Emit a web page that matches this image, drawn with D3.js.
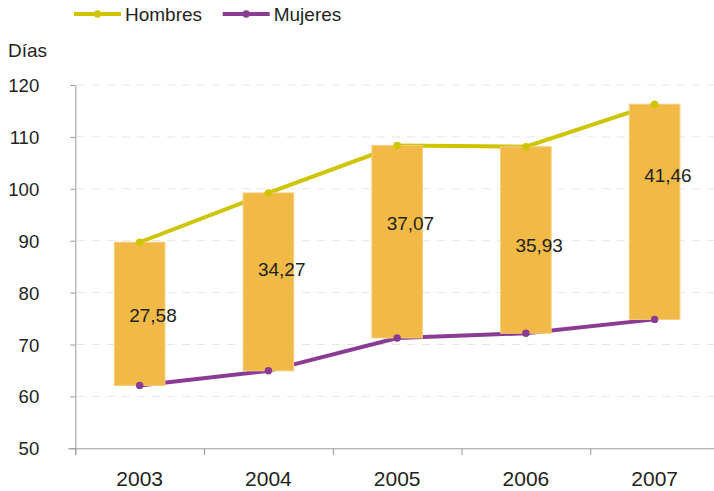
<!DOCTYPE html>
<html><head><meta charset="utf-8">
<script src="https://cdn.jsdelivr.net/npm/d3@7"></script>
<style>body{margin:0;background:#fff}svg{display:block;font-family:"Liberation Sans",Arial,sans-serif}</style>
</head><body><svg id="c" width="714" height="491"></svg>
<script>
const years = ["2003","2004","2005","2006","2007"];
const hombres = [89.70, 99.20, 108.33, 108.10, 116.30];
const diffs = [27.58, 34.27, 37.07, 35.93, 41.46];
const mujeres = [62.12, 64.93, 71.26, 72.17, 74.84];
const diffLabels = ["27,58","34,27","37,07","35,93","41,46"];
const labelAt = [75.6, 84.5, 93.3, 89.2, 102.5];
const yTicks = [50,60,70,80,90,100,110,120];
const seriesNames = ["Hombres","Mujeres"];
const colors = {Hombres:"#CFC400", Mujeres:"#8A3B94"};

const svg = d3.select("#c");
const x = d3.scaleBand().domain(years).range([75.3, 719]);
const y = d3.scaleLinear().domain([50,120]).range([448.3, 85]);
const txt = "#231F20";

// gridlines
svg.append("g").selectAll("line").data(yTicks.filter(t=>t>50)).join("line")
  .attr("x1",77).attr("x2",714).attr("y1",d=>y(d)).attr("y2",d=>y(d))
  .attr("stroke","#E6E6E6").attr("stroke-width",1).attr("stroke-dasharray","8,7");

// y axis
const ya = svg.append("g").attr("transform","translate(75.3,0)")
  .call(d3.axisLeft(y).tickValues(yTicks).tickSize(5).tickPadding(31));
ya.select(".domain").attr("d","M0.5,"+y(120)+"V455").attr("stroke","#9A9A9A");
ya.selectAll(".tick line").attr("stroke","#9A9A9A");
ya.selectAll("text").attr("font-size",18.6).attr("fill",txt).attr("font-family","Liberation Sans, Arial, sans-serif").attr("dy","0.35em");

// x axis
const xa = svg.append("g").attr("transform","translate(0,448.3)")
  .call(d3.axisBottom(x).tickSize(0).tickPadding(23));
xa.select(".domain").attr("d","M68,0.5H714").attr("stroke","#9A9A9A");
xa.selectAll("text").attr("font-size",21).attr("fill",txt).attr("font-family","Liberation Sans, Arial, sans-serif");
svg.append("g").selectAll("line").data(years).join("line")
  .attr("x1",d=>x(d)+0.5).attr("x2",d=>x(d)+0.5).attr("y1",448.3).attr("y2",455)
  .attr("stroke","#9A9A9A");

// lines
const line = d3.line().x((d,i)=>x(years[i])+x.bandwidth()/2).y(d=>y(d));
svg.append("path").datum(hombres).attr("d",line).attr("fill","none")
  .attr("stroke",colors.Hombres).attr("stroke-width",4);
svg.append("path").datum(mujeres).attr("d",line).attr("fill","none")
  .attr("stroke",colors.Mujeres).attr("stroke-width",4);

// bars
const bw = 50.5;
svg.append("g").selectAll("rect").data(years).join("rect")
  .attr("x",(d)=>x(d)+x.bandwidth()/2-bw/2)
  .attr("width",bw)
  .attr("y",(d,i)=>y(mujeres[i]+diffs[i]))
  .attr("height",(d,i)=>y(mujeres[i])-y(mujeres[i]+diffs[i]))
  .attr("fill","#F1B946").attr("stroke","#F6CC78").attr("stroke-width",1);

// dots
[["Hombres",hombres],["Mujeres",mujeres]].forEach(([n,vals])=>{
  svg.append("g").selectAll("circle").data(vals).join("circle")
    .attr("cx",(d,i)=>x(years[i])+x.bandwidth()/2).attr("cy",d=>y(d)).attr("r",3.7)
    .attr("fill",colors[n]);
});

// bar labels
svg.append("g").selectAll("text").data(diffLabels).join("text")
  .attr("x",(d,i)=>x(years[i])+x.bandwidth()/2-10.5)
  .attr("y",(d,i)=>y(labelAt[i])).attr("dy","0.35em")
  .attr("font-size",19).attr("fill",txt).text(d=>d);

// Días
svg.append("text").attr("x",8).attr("y",57).attr("font-size",19).attr("fill",txt).text("Días");

// legend
const legX = [74, 222.7];
seriesNames.forEach((n,i)=>{
  const g = svg.append("g").attr("transform",`translate(${legX[i]},14)`);
  g.append("line").attr("x1",0).attr("x2",47).attr("y1",0).attr("y2",0)
    .attr("stroke",colors[n]).attr("stroke-width",4);
  g.append("circle").attr("cx",23.5).attr("cy",0).attr("r",3.7).attr("fill",colors[n]);
  g.append("text").attr("x",51).attr("y",0).attr("dy","0.36em").attr("font-size",19)
    .attr("fill",txt).text(n);
});
</script></body></html>
